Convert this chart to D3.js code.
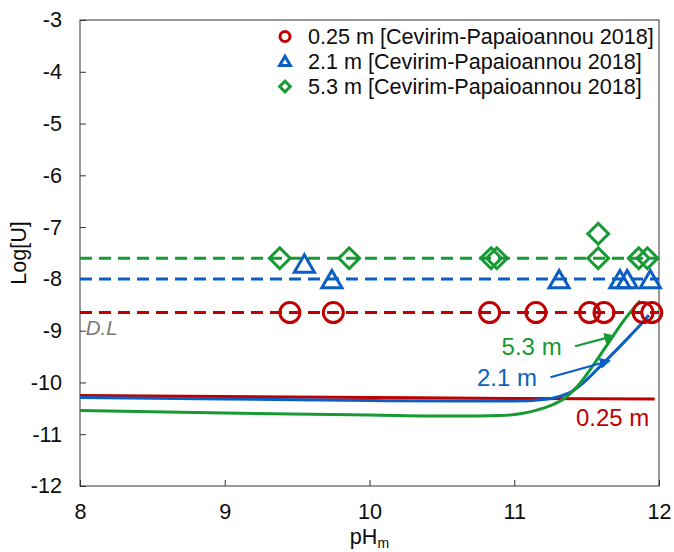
<!DOCTYPE html>
<html>
<head>
<meta charset="utf-8">
<script src="https://cdn.jsdelivr.net/npm/d3@7/dist/d3.min.js"></script>
<style>
  html, body { margin: 0; padding: 0; background: #fff; }
  svg { display: block; font-family: "Liberation Sans", Arial, sans-serif; }
</style>
</head>
<body>
<svg id="chart" width="674" height="552"></svg>
<script>
// ---------- data ----------
const xTicks = [8, 9, 10, 11, 12];
const yTicks = [-3, -4, -5, -6, -7, -8, -9, -10, -11, -12];

const seriesNames = ["0.25 m [Cevirim-Papaioannou 2018]", "2.1 m [Cevirim-Papaioannou 2018]", "5.3 m [Cevirim-Papaioannou 2018]"];

// measured points (pH, log[U])
const red025pH  = [9.45, 9.75, 10.83, 11.15, 11.52, 11.62, 11.89, 11.95];
const red025Log = [-8.65, -8.65, -8.65, -8.65, -8.65, -8.65, -8.65, -8.65];
const blue21pH  = [9.55, 9.74, 11.31, 11.73, 11.78, 11.94];
const blue21Log = [-7.76, -8.06, -8.06, -8.06, -8.06, -8.06];
const green53pH  = [9.38, 9.86, 10.84, 10.88, 11.58, 11.58, 11.86, 11.92];
const green53Log = [-7.6, -7.6, -7.6, -7.6, -7.13, -7.6, -7.6, -7.6];

// detection / average dashed levels
const dashLevels = [-8.65, -8.0, -7.6];

// model curves
const curve025pH  = [8, 9, 10, 11, 11.97];
const curve025Log = [-10.25, -10.27, -10.29, -10.31, -10.32];
const curve21pH  = [8, 9, 10, 10.6, 11.0, 11.2, 11.3, 11.4, 11.5, 11.6, 11.7, 11.8, 11.9, 11.93];
const curve21Log = [-10.29, -10.32, -10.35, -10.36, -10.36, -10.33, -10.28, -10.17, -9.95, -9.67, -9.39, -9.1, -8.8, -8.7];
const curve53pH  = [8, 9, 10, 10.6, 10.9, 11.05, 11.15, 11.25, 11.35, 11.45, 11.55, 11.65, 11.75, 11.87];
const curve53Log = [-10.54, -10.59, -10.63, -10.65, -10.64, -10.6, -10.54, -10.45, -10.3, -10.03, -9.65, -9.24, -8.83, -8.42];

// annotation labels: text, x, y (data units)
const annoText = ["5.3 m", "2.1 m", "0.25 m"];
const annoX = [11.12, 10.95, 11.68];
const annoY = [-9.47, -10.07, -10.85];
// arrows: from (x1,y1) to (x2,y2)
const arrowX1 = [11.42, 11.25];
const arrowY1 = [-9.30, -9.90];
const arrowX2 = [11.69, 11.66];
const arrowY2 = [-9.10, -9.58];

const colors = ["#C00000", "#0A5EC4", "#179A33"];

// ---------- layout ----------
const svg = d3.select("#chart");
const L = 80, R = 659, T = 20, B = 486;
const x = d3.scaleLinear().domain([8, 12]).range([L, R]);
const y = d3.scaleLinear().domain([-12, -3]).range([B, T]);
const FS = 21.6;

// axes
const xAxis = d3.axisBottom(x).tickValues(xTicks).tickFormat(d3.format("d"))
  .tickSizeInner(-6).tickSizeOuter(0).tickPadding(18);
const yAxis = d3.axisLeft(y).tickValues(yTicks).tickFormat(d => d3.format("d")(d).replace("−", "-"))
  .tickSizeInner(-6).tickSizeOuter(0).tickPadding(18);

const gx = svg.append("g").attr("transform", `translate(0,${B})`).call(xAxis);
const gy = svg.append("g").attr("transform", `translate(${L},0)`).call(yAxis);
[gx, gy].forEach(g => {
  g.select(".domain").remove();
  g.selectAll(".tick line").attr("stroke", "#333").attr("stroke-width", 1);
  g.selectAll(".tick text").attr("font-size", FS).attr("fill", "#0d0d0d")
    .attr("font-family", "Liberation Sans, Arial, sans-serif");
});

// frame
svg.append("rect").attr("x", L).attr("y", T).attr("width", R - L).attr("height", B - T)
  .attr("fill", "none").attr("stroke", "#333").attr("stroke-width", 1);

// axis titles
svg.append("text").attr("transform", `translate(26,${(T + B) / 2}) rotate(-90)`)
  .attr("text-anchor", "middle").attr("font-size", FS).attr("fill", "#0d0d0d").text("Log[U]");
const xt = svg.append("text").attr("x", (L + R) / 2).attr("y", 544)
  .attr("text-anchor", "middle").attr("font-size", FS).attr("fill", "#0d0d0d");
xt.append("tspan").text("pH");
xt.append("tspan").attr("font-size", 14).attr("dy", 4).text("m");

// dashed levels
svg.append("g").selectAll("line").data(dashLevels).join("line")
  .attr("x1", x(8)).attr("x2", x(12))
  .attr("y1", d => y(d)).attr("y2", d => y(d))
  .attr("stroke", (d, i) => colors[i]).attr("stroke-width", 3)
  .attr("stroke-dasharray", "12,7");

// D.L label
svg.append("text").attr("x", x(8.04)).attr("y", y(-9.08))
  .attr("font-size", 20.5).attr("font-style", "italic").attr("fill", "#7a7a7a").text("D.L");

// model curves
const line = d3.line().x(d => x(d[0])).y(d => y(d[1])).curve(d3.curveMonotoneX);
const curves = [
  d3.zip(curve025pH, curve025Log),
  d3.zip(curve21pH, curve21Log),
  d3.zip(curve53pH, curve53Log)
];
svg.append("g").selectAll("path").data(curves).join("path")
  .attr("d", line).attr("fill", "none")
  .attr("stroke", (d, i) => colors[i]).attr("stroke-width", 3);

// markers
const circ = d3.symbol().type(d3.symbolCircle).size(Math.PI * 10 * 10);
const tri = d3.symbol().type(d3.symbolTriangle).size(175);
const dia = d3.symbol().type(d3.symbolSquare).size(215);

const gm = svg.append("g").attr("fill", "none").attr("stroke-width", 3);
gm.selectAll(".c").data(d3.zip(red025pH, red025Log)).join("path")
  .attr("transform", d => `translate(${x(d[0])},${y(d[1])})`)
  .attr("d", circ).attr("stroke", colors[0]);
gm.selectAll(".t").data(d3.zip(blue21pH, blue21Log)).join("path")
  .attr("transform", d => `translate(${x(d[0])},${y(d[1])})`)
  .attr("d", tri).attr("stroke", colors[1]).attr("stroke-linejoin", "miter");
gm.selectAll(".d").data(d3.zip(green53pH, green53Log)).join("path")
  .attr("transform", d => `translate(${x(d[0])},${y(d[1])}) rotate(45)`)
  .attr("d", dia).attr("stroke", colors[2]);

// annotations
svg.append("g").selectAll("text").data(annoText).join("text")
  .attr("x", (d, i) => x(annoX[i])).attr("y", (d, i) => y(annoY[i]))
  .attr("text-anchor", "middle").attr("font-size", 24)
  .attr("fill", (d, i) => colors[[2, 1, 0][i]]).text(d => d);

const defs = svg.append("defs");
[2, 1].forEach((ci, k) => {
  defs.append("marker").attr("id", "ah" + k).attr("viewBox", "0 0 10 10")
    .attr("refX", 9).attr("refY", 5).attr("markerWidth", 5).attr("markerHeight", 5)
    .attr("markerUnits", "strokeWidth").attr("orient", "auto")
    .append("path").attr("d", "M0,0 L10,5 L0,10 z").attr("fill", colors[ci]);
});
svg.append("g").selectAll("line").data(arrowX1).join("line")
  .attr("x1", (d, i) => x(arrowX1[i])).attr("y1", (d, i) => y(arrowY1[i]))
  .attr("x2", (d, i) => x(arrowX2[i])).attr("y2", (d, i) => y(arrowY2[i]))
  .attr("stroke", (d, i) => colors[[2, 1][i]]).attr("stroke-width", 2.2)
  .attr("marker-end", (d, i) => `url(#ah${i})`);

// legend
const legY = [36.5, 61.5, 86.5];
const legSym = [
  d3.symbol().type(d3.symbolCircle).size(Math.PI * 5 * 5),
  d3.symbol().type(d3.symbolTriangle).size(50),
  d3.symbol().type(d3.symbolSquare).size(56)
];
const lg = svg.append("g");
seriesNames.forEach((name, i) => {
  lg.append("path").attr("d", legSym[i]())
    .attr("transform", `translate(285,${legY[i] + (i === 1 ? 1 : 0)})${i === 2 ? " rotate(45)" : ""}`)
    .attr("fill", "none").attr("stroke", colors[i]).attr("stroke-width", 3);
  lg.append("text").attr("x", 308).attr("y", legY[i]).attr("dy", "0.35em")
    .attr("font-size", FS).attr("fill", "#0d0d0d").text(name);
});
</script>
</body>
</html>
